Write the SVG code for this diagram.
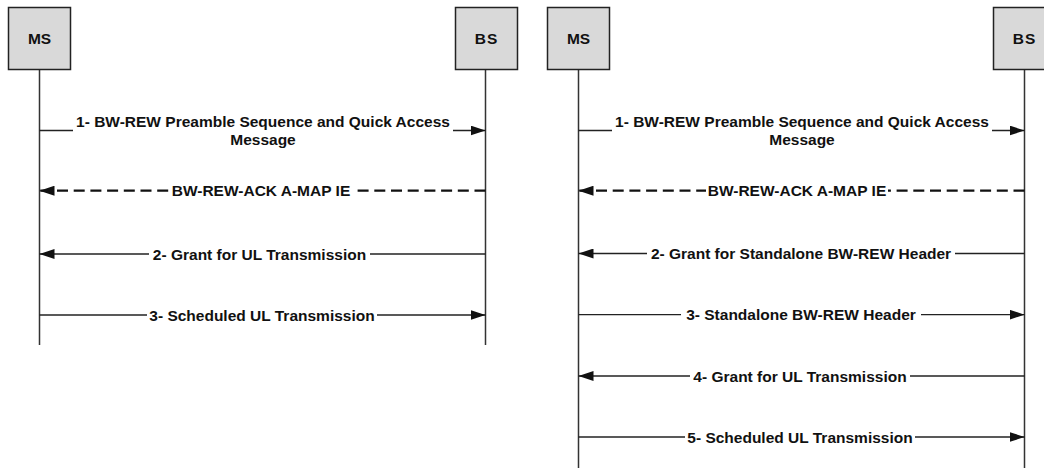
<svg xmlns="http://www.w3.org/2000/svg" width="1044" height="468" viewBox="0 0 1044 468">
<style>
.box{fill:#d9d9d9;stroke:#222;stroke-width:1.5}
.lt{font-family:"Liberation Sans",Arial,sans-serif;font-weight:bold;font-size:15.5px;fill:#111;text-anchor:middle}
.life{stroke:#333;stroke-width:1.5;fill:none}
.msg{stroke:#222;stroke-width:1.3;fill:none}
.dash{stroke:#111;stroke-width:2.2;fill:none;stroke-dasharray:11 5.7}
.bg{fill:#fff}
</style>
<defs>
<marker id="ah" markerUnits="userSpaceOnUse" markerWidth="16" markerHeight="10" refX="15" refY="5" orient="auto">
<path d="M0,0 L15,5 L0,10 Z" fill="#111"/>
</marker>
</defs>
<rect width="1044" height="468" fill="#fff"/>
<g id="lifelines">
<line class="life" x1="39.5" y1="69" x2="39.5" y2="345"/>
<line class="life" x1="485.5" y1="69" x2="485.5" y2="345"/>
<line class="life" x1="578.5" y1="69" x2="578.5" y2="468"/>
<line class="life" x1="1024.5" y1="69" x2="1024.5" y2="468"/>
</g>
<g id="node-ms-left"><rect class="box" x="8.5" y="7.5" width="62" height="62"/><text class="lt" x="39.5" y="43.5">MS</text></g>
<g id="node-bs-left"><rect class="box" x="455.5" y="7.5" width="62" height="62"/><text class="lt" x="486.5" y="43.5" letter-spacing="1">BS</text></g>
<g id="node-ms-right"><rect class="box" x="547.5" y="7.5" width="62" height="62"/><text class="lt" x="578.5" y="43.5">MS</text></g>
<g id="node-bs-right"><rect class="box" x="993.5" y="7.5" width="62" height="62"/><text class="lt" x="1024.5" y="43.5" letter-spacing="1">BS</text></g>
<g id="connectors">
<path class="msg" d="M39.5,130.5 H485.5" marker-end="url(#ah)"/>
<rect class="bg" x="73" y="115" width="380" height="18"/>
<text class="lt" x="263" y="127">1- BW-REW Preamble Sequence and Quick Access</text>
<text class="lt" x="263" y="144.5">Message</text>

<path class="dash" d="M485.5,190.7 H39.5" marker-end="url(#ah)"/>
<rect class="bg" x="170" y="182" width="182" height="18"/>
<text class="lt" x="261" y="196">BW-REW-ACK A-MAP IE</text>

<path class="msg" d="M485.5,254 H39.5" marker-end="url(#ah)"/>
<rect class="bg" x="149" y="245" width="221" height="18"/>
<text class="lt" x="259.5" y="259.5">2- Grant for UL Transmission</text>

<path class="msg" d="M39.5,315 H485.5" marker-end="url(#ah)"/>
<rect class="bg" x="147" y="306" width="230" height="18"/>
<text class="lt" x="262" y="320.5">3- Scheduled UL Transmission</text>

<path class="msg" d="M578.5,130.5 H1024.5" marker-end="url(#ah)"/>
<rect class="bg" x="612" y="115" width="380" height="18"/>
<text class="lt" x="802" y="127">1- BW-REW Preamble Sequence and Quick Access</text>
<text class="lt" x="802" y="144.5">Message</text>

<path class="dash" d="M1024.5,190.7 H578.5" marker-end="url(#ah)"/>
<rect class="bg" x="706" y="182" width="182" height="18"/>
<text class="lt" x="797" y="196">BW-REW-ACK A-MAP IE</text>

<path class="msg" d="M1024.5,253.5 H578.5" marker-end="url(#ah)"/>
<rect class="bg" x="647" y="244" width="308" height="18"/>
<text class="lt" x="801" y="259">2- Grant for Standalone BW-REW Header</text>

<path class="msg" d="M578.5,314.7 H1024.5" marker-end="url(#ah)"/>
<rect class="bg" x="681" y="305" width="240" height="18"/>
<text class="lt" x="801" y="320.2">3- Standalone BW-REW Header</text>

<path class="msg" d="M1024.5,376 H578.5" marker-end="url(#ah)"/>
<rect class="bg" x="690" y="367" width="220" height="18"/>
<text class="lt" x="800" y="381.5">4- Grant for UL Transmission</text>

<path class="msg" d="M578.5,437 H1024.5" marker-end="url(#ah)"/>
<rect class="bg" x="685" y="428" width="230" height="18"/>
<text class="lt" x="800" y="442.5">5- Scheduled UL Transmission</text>
</g>
</svg>
